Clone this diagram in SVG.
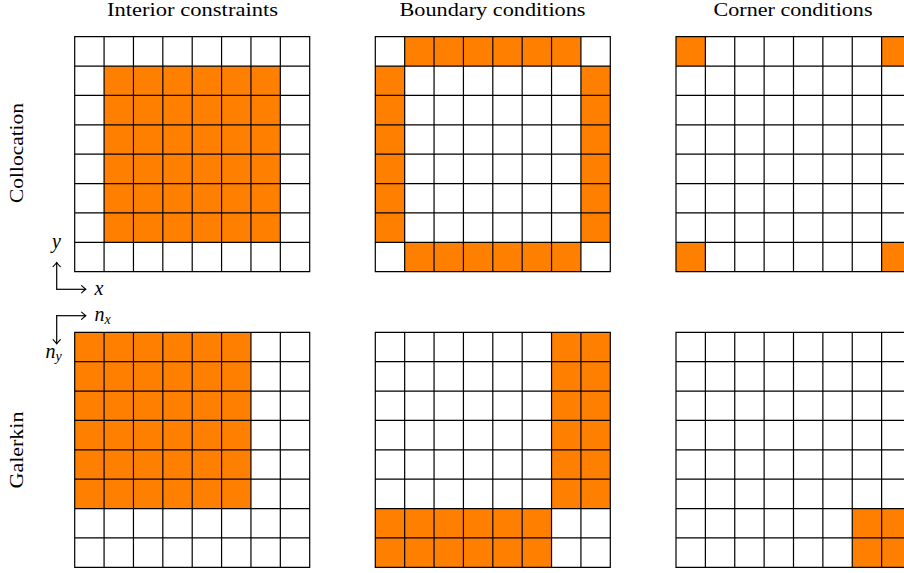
<svg xmlns="http://www.w3.org/2000/svg" width="904" height="573" viewBox="0 0 904 573">
<style>
.o{fill:#FF8000;stroke:none}
.g{fill:none;stroke:#000;stroke-width:1.2}
.t{font-family:'Liberation Serif','DejaVu Serif','Times New Roman',serif;font-size:18px;fill:#000;text-anchor:middle}
.m{font-family:'Liberation Serif','DejaVu Serif','Times New Roman',serif;font-style:italic;font-size:20px;fill:#000}
.s{font-size:14px}
.ax{fill:none;stroke:#000;stroke-width:1.2}
</style>
<defs>
<path id="grid" class="g" d="M0,0H235V235H0Z M29.375,0V235 M58.75,0V235 M88.125,0V235 M117.5,0V235 M146.875,0V235 M176.25,0V235 M205.625,0V235 M0,29.375H235 M0,58.75H235 M0,88.125H235 M0,117.5H235 M0,146.875H235 M0,176.25H235 M0,205.625H235"/>
<marker id="arr" markerUnits="userSpaceOnUse" markerWidth="12" markerHeight="12" viewBox="-6 -6 12 12" refX="0" refY="0" orient="auto">
<path d="M-4.2,-3.6 Q-1.2,-0.9 0,0 Q-1.2,0.9 -4.2,3.6" fill="none" stroke="#000" stroke-width="1.1" stroke-linecap="round"/>
</marker>
</defs>
<rect width="904" height="573" fill="#fff"/>

<g id="titles">
<text class="t" x="192.5" y="16" textLength="171" lengthAdjust="spacingAndGlyphs">Interior constraints</text>
<text class="t" x="492.5" y="16" textLength="186" lengthAdjust="spacingAndGlyphs">Boundary conditions</text>
<text class="t" x="793" y="16" textLength="159" lengthAdjust="spacingAndGlyphs">Corner conditions</text>
<text class="t" transform="translate(23,153) rotate(-90)" textLength="100" lengthAdjust="spacingAndGlyphs">Collocation</text>
<text class="t" transform="translate(23,450) rotate(-90)" textLength="77" lengthAdjust="spacingAndGlyphs">Galerkin</text>
</g>

<g id="colloc-interior">
<rect class="o" x="104.075" y="66.075" width="176.25" height="176.25"/>
<use href="#grid" x="74.7" y="36.7"/>
</g>
<g id="colloc-boundary">
<rect class="o" x="404.675" y="36.7" width="176.25" height="29.375"/>
<rect class="o" x="404.675" y="242.325" width="176.25" height="29.375"/>
<rect class="o" x="375.3" y="66.075" width="29.375" height="176.25"/>
<rect class="o" x="580.925" y="66.075" width="29.375" height="176.25"/>
<use href="#grid" x="375.3" y="36.7"/>
</g>
<g id="colloc-corner">
<rect class="o" x="676" y="36.7" width="29.375" height="29.375"/>
<rect class="o" x="881.625" y="36.7" width="29.375" height="29.375"/>
<rect class="o" x="676" y="242.325" width="29.375" height="29.375"/>
<rect class="o" x="881.625" y="242.325" width="29.375" height="29.375"/>
<use href="#grid" x="676" y="36.7"/>
</g>

<g id="galerkin-interior">
<rect class="o" x="74.7" y="332.3" width="176.25" height="176.25"/>
<use href="#grid" x="74.7" y="332.3"/>
</g>
<g id="galerkin-boundary">
<rect class="o" x="551.55" y="332.3" width="58.75" height="176.25"/>
<rect class="o" x="375.3" y="508.55" width="176.25" height="58.75"/>
<use href="#grid" x="375.3" y="332.3"/>
</g>
<g id="galerkin-corner">
<rect class="o" x="852.25" y="508.55" width="58.75" height="58.75"/>
<use href="#grid" x="676" y="332.3"/>
</g>

<g id="connectors">
<path class="ax" d="M56.7,289.3V262.5" marker-end="url(#arr)"/>
<path class="ax" d="M56.1,289.3H85.8" marker-end="url(#arr)"/>
<path class="ax" d="M56.1,315.7H85.8" marker-end="url(#arr)"/>
<path class="ax" d="M56.7,315.1V343.8" marker-end="url(#arr)"/>
</g>

<g id="axis-labels">
<text class="m" x="52" y="248">y</text>
<text class="m" x="94.5" y="294.5">x</text>
<text class="m" x="94.5" y="320.5">n<tspan class="s" dy="3">x</tspan></text>
<text class="m" x="45.5" y="358">n<tspan class="s" dy="3">y</tspan></text>
</g>
</svg>
